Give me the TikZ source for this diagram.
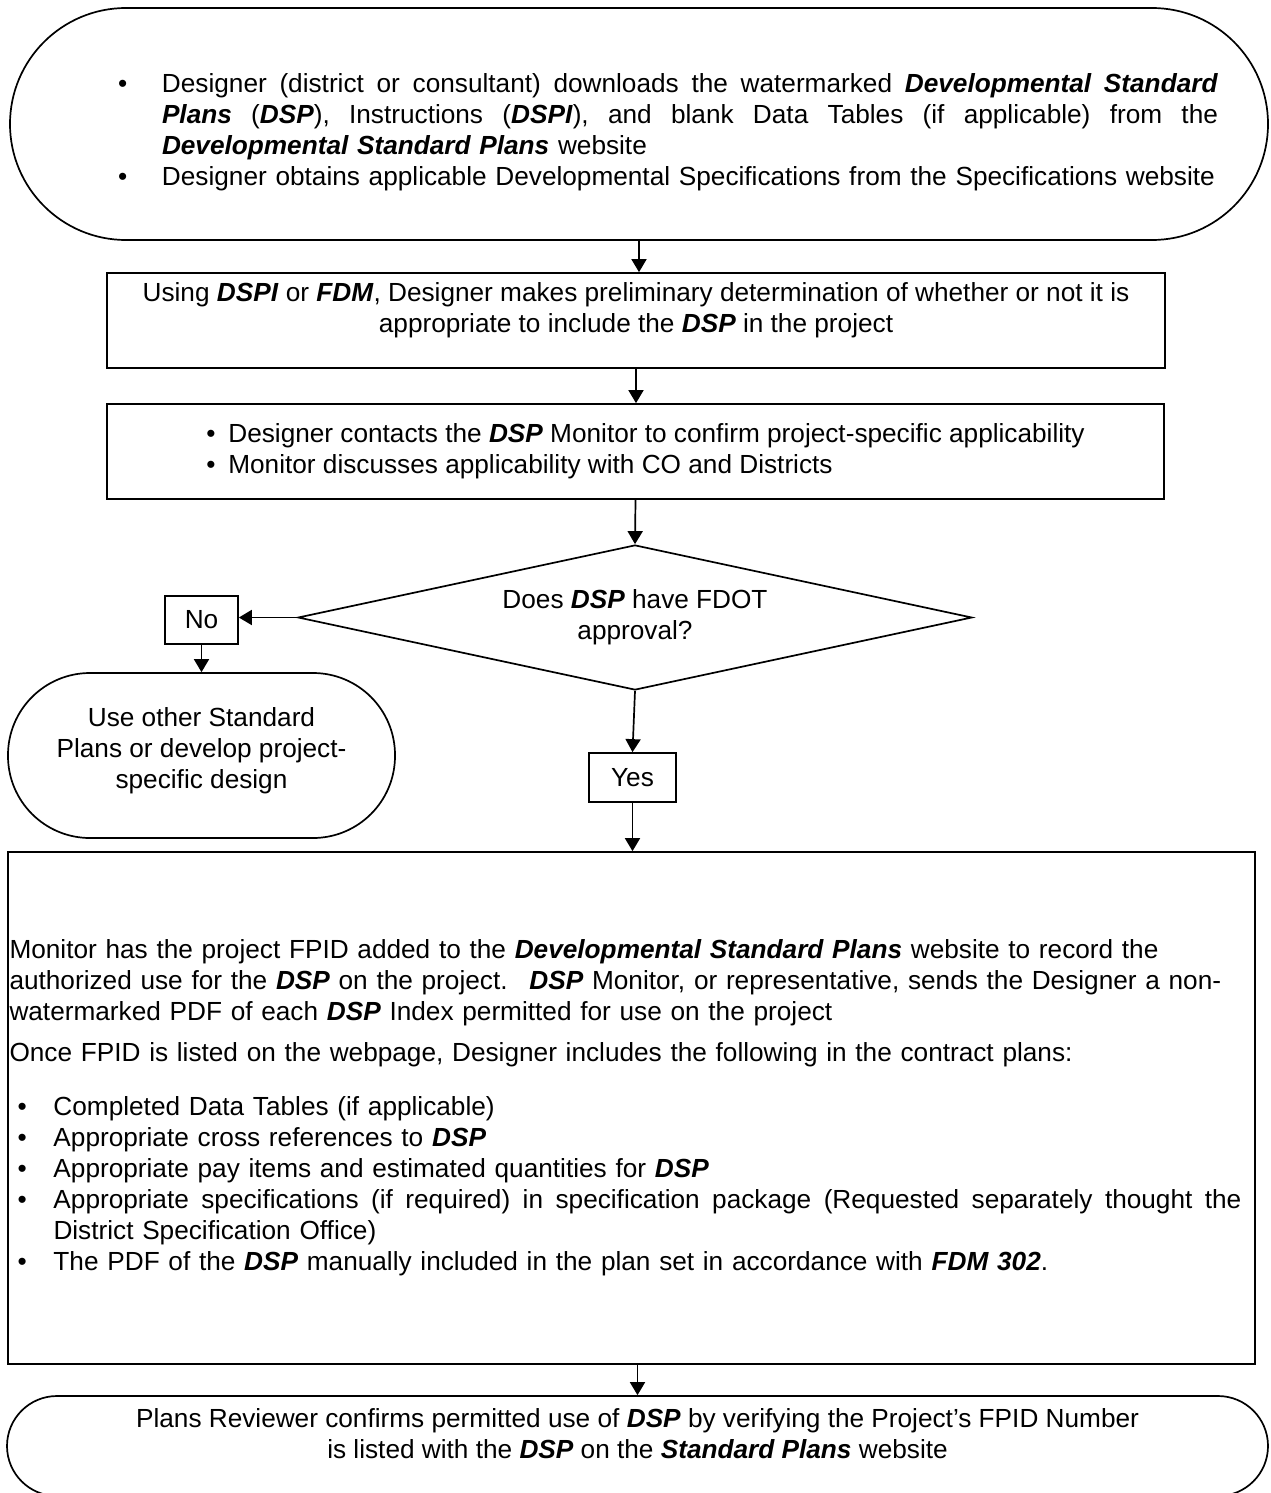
\documentclass[tikz,border=0pt]{standalone}
\usepackage{fontspec}
\setmainfont{Liberation Sans}
\usetikzlibrary{shapes.geometric,arrows.meta}

\newcommand{\bi}[1]{\textbf{\textit{#1}}}
\newcommand{\dsp}{\bi{DSP}}
\newcommand{\lowpad}[1]{\rule[-#1]{0pt}{#1}}
\newcommand{\highpad}[1]{\rule{0pt}{#1}}
% a line spread out to a given width (justified)
\newcommand{\jline}[2]{\makebox[#1][s]{\spaceskip=.278em plus 1fil\xspaceskip=\spaceskip #2}}

\begin{document}
\begin{tikzpicture}[x=1pt,y=-1pt,
    every node/.style={font=\fontsize{26.2}{31}\selectfont},
    flowbox/.style={draw,rectangle,line width=1.7pt,inner sep=0pt},
    terminal/.style={draw,rectangle,line width=1.7pt,inner sep=0pt,rounded corners=#1},
    arr/.style={line width=1.7pt,-{Triangle[length=13pt,width=15pt]}}]
    \useasboundingbox (0,0) rectangle (1270,1493);

    % Start: download the plans
    \node [terminal=116pt, minimum width=1258pt, minimum height=232pt, text width=1158pt, align=left] (start) at (639,124)
        {\highpad{36pt}\hspace*{58pt}\makebox[44pt][l]{\textbullet}\jline{1056pt}{Designer (district or consultant) downloads the watermarked \bi{Developmental Standard}}\\
         \hspace*{102pt}\jline{1056pt}{\bi{Plans} (\dsp), Instructions (\bi{DSPI}), and blank Data Tables (if applicable) from the}\\
         \hspace*{102pt}\mbox{\bi{Developmental Standard Plans} website}\\
         \hspace*{58pt}\makebox[44pt][l]{\textbullet}\mbox{Designer obtains applicable Developmental Specifications from the Specifications website}};

    % Preliminary determination
    \node [flowbox, minimum width=1058pt, minimum height=95pt, align=center] (prelim) at (636,320.5)
        {Using \bi{DSPI} or \bi{FDM}, Designer makes preliminary determination of whether or not it is\\
         appropriate to include the \dsp{} in the project\lowpad{26pt}};

    % Contact the monitor
    \node [flowbox, minimum width=1057pt, minimum height=95pt, align=left] (contact) at (635.5,451.5)
        {\hspace*{20pt}\makebox[22pt][l]{\textbullet}Designer contacts the \dsp{} Monitor to confirm project-specific applicability\\
         \hspace*{20pt}\makebox[22pt][l]{\textbullet}Monitor discusses applicability with CO and Districts};

    % Decision
    \node [diamond, draw, line width=1.7pt, inner sep=0pt, shape aspect=4.65, minimum width=674pt, minimum height=145pt, align=center] (approval) at (635,617.5)
        {Does \dsp{} have FDOT\\approval?};

    \node [flowbox, minimum width=73pt, minimum height=48pt] (no) at (201.5,620) {No};
    \node [terminal=82pt, minimum width=387pt, minimum height=165pt, align=center] (other) at (201.5,755.5)
        {Use other Standard\\Plans or develop project-\\specific design\lowpad{16pt}};
    \node [flowbox, minimum width=87pt, minimum height=49pt] (yes) at (632.5,777.5) {Yes};

    % Record the FPID
    \node [flowbox, minimum width=1247pt, minimum height=512pt, text width=1244pt, align=left] (record) at (631.5,1108)
        {\mbox{Monitor has the project FPID added to the \bi{Developmental Standard Plans} website to record the}\\
         \mbox{authorized use for the \dsp{} on the project.~ \dsp{} Monitor, or representative, sends the Designer a non-}\\
         \mbox{watermarked PDF of each \dsp{} Index permitted for use on the project}\\[10pt]
         \mbox{Once FPID is listed on the webpage, Designer includes the following in the contract plans:}\\[23pt]
         \hspace*{8pt}\makebox[36pt][l]{\textbullet}Completed Data Tables (if applicable)\\
         \hspace*{8pt}\makebox[36pt][l]{\textbullet}Appropriate cross references to \dsp\\
         \hspace*{8pt}\makebox[36pt][l]{\textbullet}Appropriate pay items and estimated quantities for \dsp\\
         \hspace*{8pt}\makebox[36pt][l]{\textbullet}\jline{1188pt}{Appropriate specifications (if required) in specification package (Requested separately thought the}\\
         \hspace*{44pt}District Specification Office)\\
         \hspace*{8pt}\makebox[36pt][l]{\textbullet}\mbox{The PDF of the \dsp{} manually included in the plan set in accordance with \bi{FDM 302}.}};

    % End: plans review (runs off the page)
    \node [terminal=50pt, minimum width=1261pt, minimum height=100pt, align=center] (review) at (637.5,1446)
        {Plans Reviewer confirms permitted use of \dsp{} by verifying the Project’s FPID Number\\
         is listed with the \dsp{} on the \bi{Standard Plans} website\lowpad{26pt}};

    % Connectors
    \draw [arr] (start.south) -- (start.south |- prelim.north);
    \draw [arr] (prelim.south) -- (prelim.south |- contact.north);
    \draw [arr] (contact.south) -- (approval.north);
    \draw [arr] (approval.west) -- (approval.west -| no.east);
    \draw [arr] (no.south) -- (other.north);
    \draw [arr] (approval.south) -- (yes.north);
    \draw [arr] (yes.south) -- (yes.south |- record.north);
    \draw [arr] (review.north |- record.south) -- (review.north);
\end{tikzpicture}
\end{document}
